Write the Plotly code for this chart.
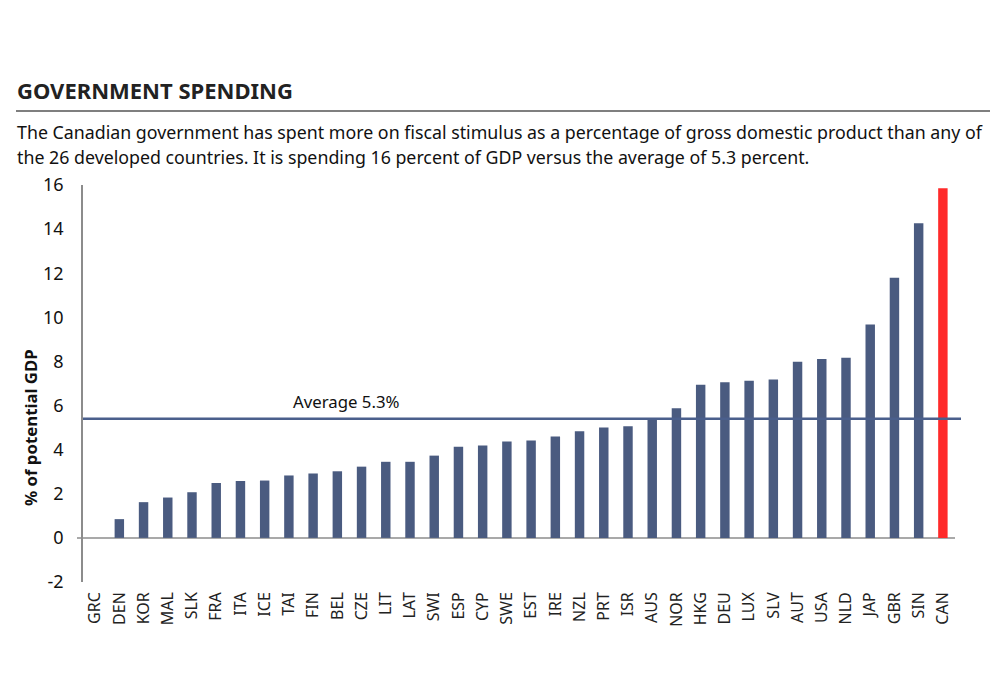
import plotly.graph_objects as go

# Fiscal stimulus, % of potential GDP
countries = [
    "GRC", "DEN", "KOR", "MAL", "SLK", "FRA", "ITA", "ICE", "TAI", "FIN",
    "BEL", "CZE", "LIT", "LAT", "SWI", "ESP", "CYP", "SWE", "EST", "IRE",
    "NZL", "PRT", "ISR", "AUS", "NOR", "HKG", "DEU", "LUX", "SLV", "AUT",
    "USA", "NLD", "JAP", "GBR", "SIN", "CAN",
]
spending = [
    0.0, 0.85, 1.62, 1.83, 2.07, 2.49, 2.58, 2.6, 2.83, 2.92,
    3.02, 3.23, 3.45, 3.45, 3.73, 4.13, 4.19, 4.37, 4.42, 4.6,
    4.83, 5.0, 5.06, 5.42, 5.88, 6.94, 7.06, 7.12, 7.18, 7.99,
    8.11, 8.17, 9.67, 11.8, 14.27, 15.85,
]
average_line = 5.4
average_label = "Average 5.3%"
y_ticks = [-2, 0, 2, 4, 6, 8, 10, 12, 14, 16]
y_ticktext = ["-2", "0", "2", "4", "6", "8", "10", "12", "14", "16"]

BAR = "#4a5b80"
HIGHLIGHT = "#ff2a2a"
FONT = "Noto Sans"

# the page body adds an 8px margin, so work in figure pixels = screen - 8
OFF = 8
W, H = 1000, 700
L, R, T, B = 83 - OFF, 955 - OFF, 185 - OFF, 582 - OFF


def px_x(x):
    return (x - OFF - L) / (R - L)


def px_y(y):
    return (B - (y - OFF)) / (B - T)


colors = [HIGHLIGHT if c == "CAN" else BAR for c in countries]

fig = go.Figure(go.Bar(
    x=countries, y=spending,
    marker=dict(color=colors, line=dict(width=0)),
    hoverinfo="x+y",
))

fig.add_shape(type="line", xref="paper", yref="y",
              x0=px_x(77), x1=1.0, y0=0, y1=0,
              line=dict(color="#8c8c8c", width=1.5), layer="below")
fig.add_shape(type="line", xref="paper", yref="y",
              x0=0, x1=px_x(961), y0=average_line, y1=average_line,
              line=dict(color="#4a5f8c", width=2.5), layer="above")
fig.add_shape(type="line", xref="paper", yref="paper",
              x0=px_x(16), x1=px_x(990), y0=px_y(111), y1=px_y(111),
              line=dict(color="#555555", width=1.5))

fig.add_annotation(text="<b>GOVERNMENT SPENDING</b>", xref="paper", yref="paper",
                   x=px_x(15), y=px_y(90), xanchor="left", yanchor="middle",
                   showarrow=False, font=dict(family=FONT, size=22, color="#222222"))
fig.add_annotation(text="The Canadian government has spent more on fiscal stimulus as a "
                        "percentage of gross domestic product than any of",
                   xref="paper", yref="paper", x=px_x(15), y=px_y(132),
                   xanchor="left", yanchor="middle", showarrow=False,
                   font=dict(family=FONT, size=17.8, color="#111111"))
fig.add_annotation(text="the 26 developed countries. It is spending 16 percent of GDP "
                        "versus the average of 5.3 percent.",
                   xref="paper", yref="paper", x=px_x(15), y=px_y(157),
                   xanchor="left", yanchor="middle", showarrow=False,
                   font=dict(family=FONT, size=17.8, color="#111111"))
fig.add_annotation(text=average_label, xref="paper", yref="paper",
                   x=px_x(291), y=px_y(401), xanchor="left", yanchor="middle",
                   showarrow=False, font=dict(family=FONT, size=16.8, color="#111111"))
fig.add_annotation(text="<b>% of potential GDP</b>", xref="paper", yref="paper",
                   x=px_x(30), y=px_y(428), textangle=-90,
                   xanchor="center", yanchor="middle", showarrow=False,
                   font=dict(family=FONT, size=16.8, color="#111111"))

fig.update_layout(
    width=W, height=H,
    margin=dict(l=L, r=W - R, t=T, b=H - B, autoexpand=False),
    paper_bgcolor="white", plot_bgcolor="white",
    bargap=0.61, showlegend=False,
    font=dict(family=FONT, color="#111111"),
)
fig.update_xaxes(
    type="category", range=[-0.5, len(countries) - 0.5],
    tickangle=-90, tickfont=dict(size=16, color="#222222"),
    showline=False, showgrid=False, ticks="", ticklabelstandoff=6,
)
fig.update_yaxes(
    range=[-2, 16], tickvals=y_ticks, ticktext=y_ticktext,
    tickfont=dict(size=18, color="#111111"),
    showline=True, linecolor="#8c8c8c", linewidth=1.5,
    showgrid=False, zeroline=False, ticks="", ticklabelstandoff=14,
)

fig.write_html("out.html")
